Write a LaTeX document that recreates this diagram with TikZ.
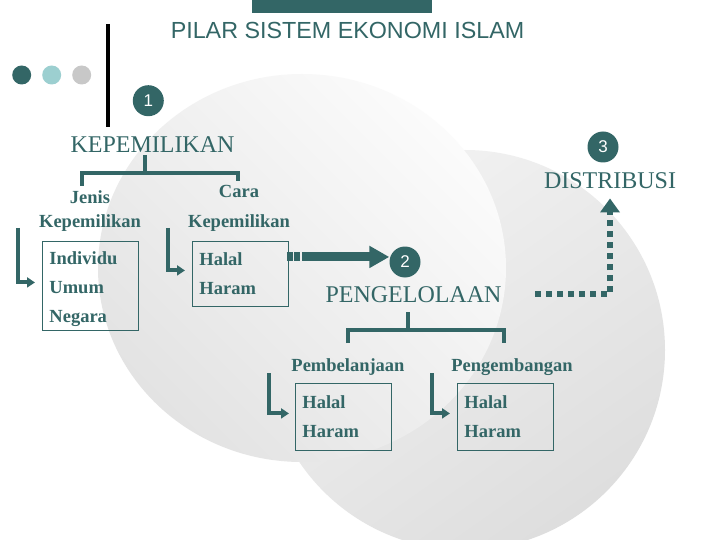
\documentclass[tikz,border=0pt]{standalone}
\usepackage{fontspec}
\setmainfont{Liberation Serif}
\setsansfont{Liberation Sans}
\usetikzlibrary{arrows.meta}
\definecolor{pilar}{HTML}{336666}
\definecolor{pilarlight}{HTML}{9CCFD0}
\definecolor{pilargray}{HTML}{C8C8C8}

\tikzset{
  head/.style={text=pilar, font=\fontsize{24}{24}\selectfont, inner sep=0pt, anchor=base},
  sub/.style={text=pilar, font=\bfseries\fontsize{18.5}{24}\selectfont, inner sep=0pt, align=center},
  itembox/.style={draw=pilar, line width=0.9pt, text=pilar, font=\bfseries\fontsize{18.5}{29}\selectfont,
    align=left, anchor=north west, inner xsep=7pt, inner ysep=0pt, minimum width=96pt, text width=82pt},
  num/.style={circle, fill=pilar, text=white, font=\sffamily\fontsize{17}{17}\selectfont,
    minimum size=31pt, inner sep=0pt},
  bracket/.style={draw=pilar, line width=4pt},
  elbow/.style={draw=pilar, line width=4pt, -{Triangle[length=8pt,width=10pt]}, shorten >=7pt},
  fat/.style={draw=pilar, line width=9pt, dash pattern=on 6pt off 1.5pt on 6pt off 1.5pt on 300pt off 0pt,
    -{Triangle[length=20pt,width=21pt]}},
  dots/.style={draw=pilar, line width=6pt, dash pattern=on 6pt off 5pt,
    -{Triangle[length=14pt,width=19pt]}}
}

\begin{document}
\begin{tikzpicture}[x=1pt,y=-1pt]
  \useasboundingbox[fill=white] (0,0) rectangle (720,540);

  \shade[top color=gray!10, bottom color=gray!26, shading angle=35] (465,350) circle (200pt);
  \shade[top color=gray!3, bottom color=gray!22, shading angle=-45] (302,268) ellipse (204pt and 194pt);

  \fill[pilar] (252,0) rectangle (432,12.7);
  \node[anchor=base, text=pilar, inner sep=0pt, font=\sffamily\fontsize{23.3}{23}\selectfont]
    (title) at (347.5,39) {PILAR SISTEM EKONOMI ISLAM};
  \draw[line width=4pt] (107.7,24) -- (107.7,127);
  \fill[pilar] (21.7,75) circle (9.5pt);
  \fill[pilarlight] (51.7,75) circle (9.5pt);
  \fill[pilargray] (81.7,75) circle (9.5pt);

  \node[num] (n1) at (148.3,100.7) {1};
  \node[num] (n2) at (405,262) {2};
  \node[num] (n3) at (603,147) {3};

  \node[head] (kep) at (152.5,153) {KEPEMILIKAN};
  \node[head] (peng) at (413.5,302) {PENGELOLAAN};
  \node[head] (dist) at (610,189) {DISTRIBUSI};

  \node[sub, anchor=north] (jenis) at (90,190) {Jenis\\Kepemilikan};
  \node[sub, anchor=north, font=\bfseries\fontsize{18.5}{30}\selectfont] (cara) at (239,185) {Cara\\Kepemilikan};
  \node[sub, anchor=base] (belanja) at (348,371) {Pembelanjaan};
  \node[sub, anchor=base] (kembang) at (512,371) {Pengembangan};

  \node[itembox, minimum height=89pt] (jenisbox) at (42,241) {\rule{0pt}{19pt}Individu\\Umum\\Negara};
  \node[itembox, minimum height=65pt] (carabox) at (192,241) {Halal\\Haram};
  \node[itembox, minimum height=67pt] (belanjabox) at (295,383) {Halal\\Haram};
  \node[itembox, minimum height=67pt] (kembangbox) at (457,383) {Halal\\Haram};

  \draw[bracket] ([xshift=-7.5pt,yshift=-2pt]kep.south) -- ++(0,20);
  \draw[bracket] (82,186) -- (82,173) -- (238,173) -- (238,181);
  \draw[bracket] ([xshift=-5.5pt,yshift=-10pt]peng.south) -- ++(0,20);
  \draw[bracket] (348,343) -- (348,330) -- (504,330) -- (504,343);

  \coordinate (t1) at (18,228);
  \coordinate (t2) at (168,228);
  \coordinate (t3) at (269,373);
  \coordinate (t4) at (432,373);
  \draw[elbow] (t1) |- ([yshift=3.5pt]jenisbox.west);
  \draw[elbow] (t2) |- ([yshift=3.5pt]carabox.west);
  \draw[elbow, shorten >=6pt] (t3) |- ([yshift=3.5pt]belanjabox.west);
  \draw[elbow] (t4) |- ([yshift=3.5pt]kembangbox.west);

  \coordinate (fa) at ([xshift=-2pt,yshift=17pt]carabox.east);
  \draw[fat] (fa) -- (fa -| n2.west);

  \coordinate (d0) at (535,294);
  \draw[dots] (d0) -| ([yshift=-9pt]dist.south);
\end{tikzpicture}
\end{document}
